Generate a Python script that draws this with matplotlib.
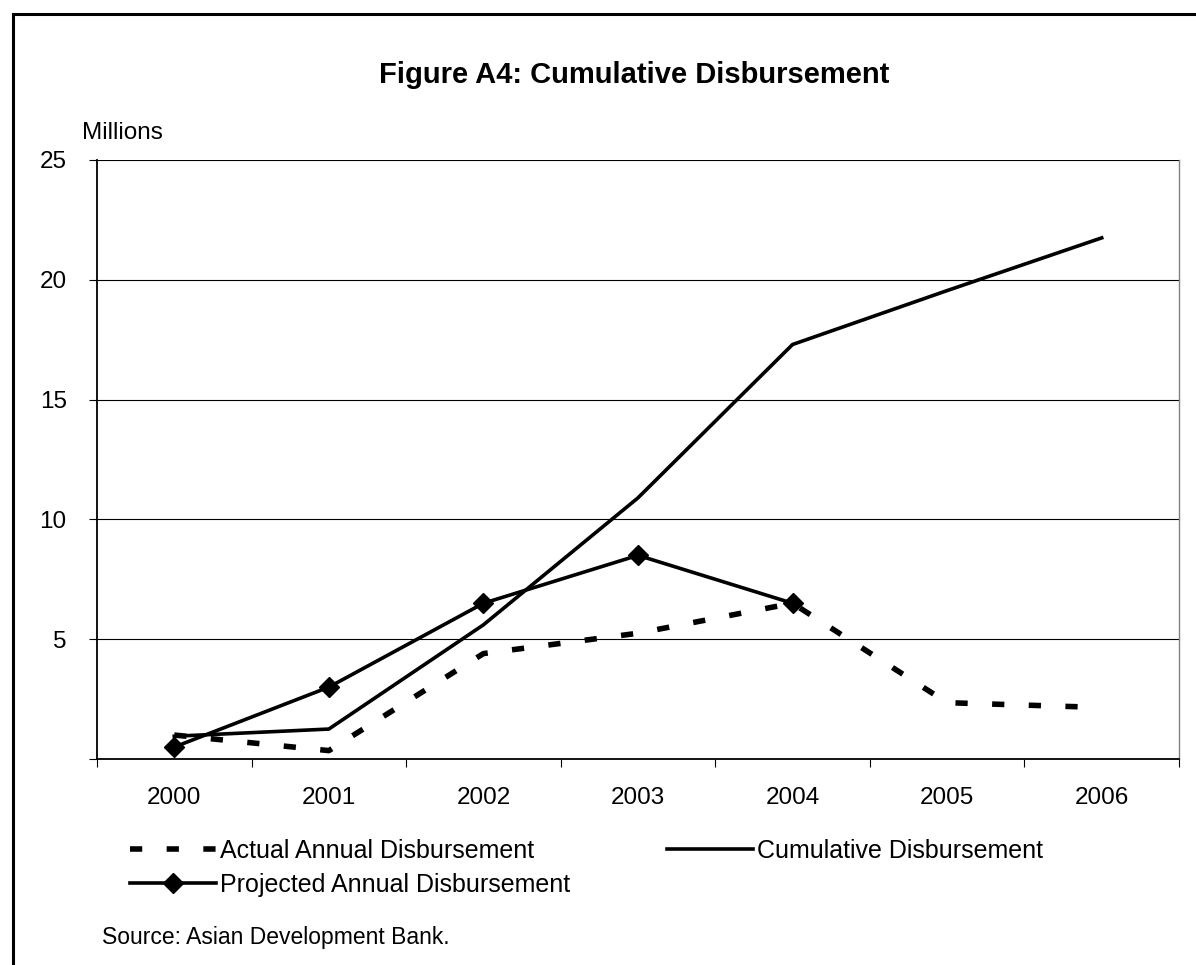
import matplotlib
matplotlib.use("Agg")
import matplotlib.pyplot as plt
from matplotlib.patches import Rectangle
import numpy as np

plt.rcParams['font.family'] = ['Liberation Sans', 'DejaVu Sans']

# ---- data (millions) ---------------------------------------------------------
years = ['2000', '2001', '2002', '2003', '2004', '2005', '2006']
actual = [1.0, 0.35, 4.4, 5.25, 6.5, 2.35, 2.15]
cumulative = [0.95, 1.25, 5.6, 10.9, 17.3, 19.55, 21.75]
projected = [0.5, 3.0, 6.5, 8.5, 6.5]          # 2000-2004 only
y_ticks = [0, 5, 10, 15, 20, 25]
y_labels = ['', '5', '10', '15', '20', '25']

W, H = 1196, 965
fig = plt.figure(figsize=(W / 100, H / 100), dpi=100)
ax = fig.add_axes([97 / W, 1 - 759 / H, (1179 - 97) / W, (759 - 160) / H])

x = np.arange(len(years))
l_act, = ax.plot(x, actual, color='black', lw=4, dashes=(2.2, 4.4),
                 solid_capstyle='butt', dash_capstyle='butt', zorder=3)
l_cum, = ax.plot(x, cumulative, color='black', lw=2.6, zorder=3)
l_proj, = ax.plot(x[:len(projected)], projected, color='black', lw=2.6,
                  marker='D', ms=10, zorder=4)

# ---- axes --------------------------------------------------------------------
ax.set_xlim(-0.5, len(years) - 0.5)
ax.set_ylim(0, 25)
ax.set_xticks(x)
ax.set_xticklabels(years, fontsize=17.5)
ax.set_xticks(np.arange(-0.5, len(years)), minor=True)
ax.tick_params(axis='x', which='major', length=0, pad=20)
ax.tick_params(axis='x', which='minor', length=5.8, width=0.8, direction='out')
ax.set_yticks(y_ticks)
ax.set_yticklabels(y_labels, fontsize=17.5)
ax.tick_params(axis='y', length=5.8, width=0.8, direction='out', pad=16)
ax.yaxis.grid(True, color='black', lw=0.8)
ax.set_axisbelow(True)
ax.spines['top'].set_visible(False)
ax.spines['right'].set_color('#808080')
ax.spines['right'].set_linewidth(1.0)
ax.spines['left'].set_linewidth(1.3)
ax.spines['bottom'].set_linewidth(1.3)

# ---- texts -------------------------------------------------------------------
fig.text(634 / W, 1 - 83 / H, 'Figure A4: Cumulative Disbursement',
         ha='center', va='baseline', fontsize=21, fontweight='bold')
fig.text(82 / W, 1 - 139 / H, 'Millions', ha='left', va='baseline', fontsize=17.5)
fig.text(102 / W, 1 - 944 / H, 'Source: Asian Development Bank.',
         ha='left', va='baseline', fontsize=16.5)

leg = fig.legend([l_act, l_proj, l_cum],
                 ['Actual Annual Disbursement', 'Projected Annual Disbursement',
                  'Cumulative Disbursement'],
                 ncol=2, loc='upper left', bbox_to_anchor=(130 / W, 1 - 839 / H),
                 frameon=False, fontsize=18, borderpad=0, borderaxespad=0,
                 handlelength=3.44, handletextpad=0.15, columnspacing=3.9,
                 labelspacing=0.4)

# outer frame, running off the right and bottom edges as in the reference
fig.patches.append(Rectangle((12.5 / W, -0.1), 2, 1.1 - 14 / H,
                             transform=fig.transFigure, fill=False,
                             lw=2.2, edgecolor='black'))

fig.savefig('out.png', dpi=100)
